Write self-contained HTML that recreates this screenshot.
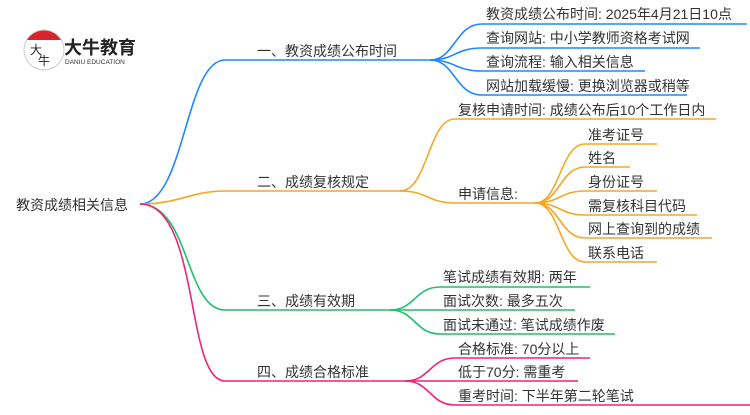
<!DOCTYPE html>
<html><head><meta charset="utf-8"><style>
body{margin:0;background:#fff;}
svg text{font-family:"Liberation Sans","Noto Sans CJK SC",sans-serif;fill:#333;}
</style></head><body>
<svg width="750" height="410" viewBox="0 0 750 410" xmlns="http://www.w3.org/2000/svg">
<!-- logo -->
<circle cx="44" cy="50" r="20" fill="#fff" stroke="#ccc" stroke-width="1"/>
<path d="M27,40 A20,20 0 0 1 61,40 Z" fill="#d9232d"/>
<text x="30" y="54" font-size="12" style="fill:#222">大</text>
<text x="38" y="65" font-size="12" style="fill:#222">牛</text>
<text x="64" y="54" font-size="18" font-weight="bold" style="fill:#222">大牛教育</text>
<text x="65" y="64" font-size="6.5" style="fill:#333">DANIU EDUCATION</text>

<g fill="none" stroke-width="1.6">
<g stroke="#1e88ff">
<path d="M140,204 C185,204 185,60 225,60 L430,60"/>
<path d="M430,60 C455,60 455,24 482,24 L747,24"/>
<path d="M430,60 C455,60 455,48 482,48 L700,48"/>
<path d="M430,60 C455,60 455,71 482,71 L645,71"/>
<path d="M430,60 C455,60 455,95 482,95 L687,95"/>
</g>
<g stroke="#f5a623">
<path d="M140,204 C180,204 190,191 225,191 L400,191"/>
<path d="M400,191 C428,191 428,119 455,119 L716,119"/>
<path d="M400,191 C428,191 428,203 455,203 L535,203"/>
<path d="M535,203 C560,203 560,144 585,144 L657,144"/>
<path d="M535,203 C560,203 560,167 585,167 L630,167"/>
<path d="M535,203 C560,203 560,191 585,191 L657,191"/>
<path d="M535,203 C560,203 560,215 585,215 L697,215"/>
<path d="M535,203 C560,203 560,238 585,238 L712,238"/>
<path d="M535,203 C560,203 560,262 585,262 L657,262"/>
</g>
<g stroke="#1fc16b">
<path d="M140,204 C190,204 185,310 225,310 L390,310"/>
<path d="M390,310 C415,310 415,287 440,287 L590,287"/>
<path d="M390,310 L575,310"/>
<path d="M390,310 C415,310 415,334 440,334 L615,334"/>
</g>
<g stroke="#f0247a">
<path d="M140,204 C200,204 185,381 225,381 L405,381"/>
<path d="M405,381 C430,381 430,358 455,358 L590,358"/>
<path d="M405,381 L578,381"/>
<path d="M405,381 C430,381 430,405 455,405 L750,405"/>
</g>
</g>

<g font-size="14">
<text x="16" y="210">教资成绩相关信息</text>
<text x="257" y="56">一、教资成绩公布时间</text>
<text x="486" y="19">教资成绩公布时间: 2025年4月21日10点</text>
<text x="486" y="43">查询网站: 中小学教师资格考试网</text>
<text x="486" y="67">查询流程: 输入相关信息</text>
<text x="486" y="91">网站加载缓慢: 更换浏览器或稍等</text>
<text x="257" y="187">二、成绩复核规定</text>
<text x="458" y="115">复核申请时间: 成绩公布后10个工作日内</text>
<text x="458" y="199">申请信息:</text>
<text x="588" y="140">准考证号</text>
<text x="588" y="163">姓名</text>
<text x="588" y="187">身份证号</text>
<text x="588" y="211">需复核科目代码</text>
<text x="588" y="234">网上查询到的成绩</text>
<text x="588" y="258">联系电话</text>
<text x="257" y="306">三、成绩有效期</text>
<text x="443" y="282">笔试成绩有效期: 两年</text>
<text x="443" y="306">面试次数: 最多五次</text>
<text x="443" y="330">面试未通过: 笔试成绩作废</text>
<text x="257" y="377">四、成绩合格标准</text>
<text x="458" y="354">合格标准: 70分以上</text>
<text x="458" y="377">低于70分: 需重考</text>
<text x="458" y="401">重考时间: 下半年第二轮笔试</text>
</g>
</svg>
</body></html>
